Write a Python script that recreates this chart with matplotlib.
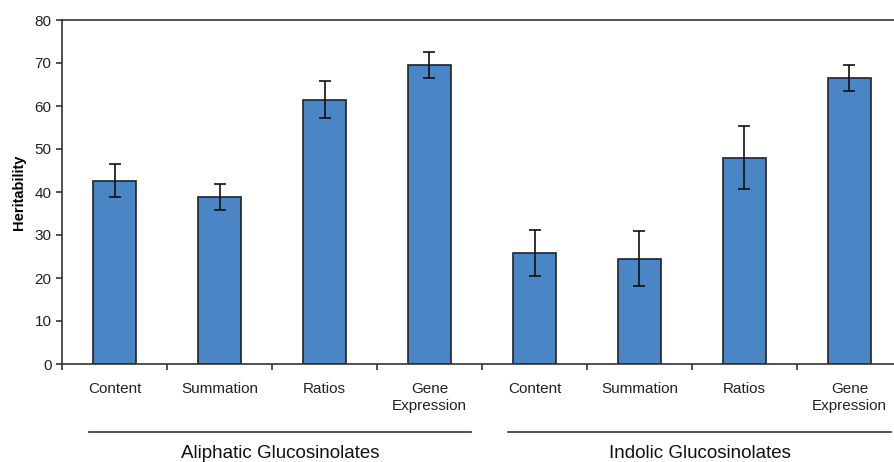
import numpy as np
import matplotlib.pyplot as plt

# Heritability of glucosinolate traits
categories = ['Content', 'Summation', 'Ratios', 'Gene\nExpression',
              'Content', 'Summation', 'Ratios', 'Gene\nExpression']
heritability = [42.6, 38.8, 61.5, 69.5, 25.8, 24.5, 48.0, 66.5]
errors = [3.8, 3.05, 4.4, 2.95, 5.45, 6.4, 7.4, 2.95]
groups = ['Aliphatic Glucosinolates', 'Indolic Glucosinolates']

plt.rcParams['font.family'] = ['Liberation Sans', 'DejaVu Sans']

fig = plt.figure(figsize=(8.94, 4.62), dpi=100)
ax = fig.add_axes([62/894, 1 - 364/462, 840/894, 344/462])

x = np.arange(len(categories))
ax.bar(x, heritability, width=0.41, color='#4a86c6', edgecolor='#222222',
       linewidth=1.2, zorder=2)
ax.errorbar(x, heritability, yerr=errors, fmt='none', ecolor='#111111',
            elinewidth=1.2, capsize=4, capthick=1.2, zorder=3)

ax.set_xlim(-0.5, 7.5)
ax.set_ylim(0, 80)
ax.set_yticks(range(0, 81, 10))
ax.set_ylabel('Heritability', fontsize=10.5, fontweight='bold', labelpad=6)

# ticks between categories, labels at centers
ax.set_xticks(np.arange(-0.5, 8, 1))
ax.set_xticklabels([])
ax.set_xticks(x, minor=True)
ax.set_xticklabels(categories, minor=True, fontsize=11, color='#222222',
                   linespacing=1.25, va='top')
ax.tick_params(axis='x', which='minor', length=0, pad=13)
ax.tick_params(axis='x', which='major', direction='out', length=4,
               width=1.2, color='#333333')
ax.tick_params(axis='y', direction='out', length=4, width=1.2,
               color='#333333', labelsize=11, labelcolor='#222222')

for side in ['left', 'bottom', 'top']:
    ax.spines[side].set_color('#333333')
    ax.spines[side].set_linewidth(1.2)
ax.spines['right'].set_visible(False)

# group lines and labels below the axis
for i, name in enumerate(groups):
    x0 = (89 if i == 0 else 508) / 894
    x1 = (471 if i == 0 else 891) / 894
    fig.add_artist(plt.Line2D([x0, x1], [1 - 432/462, 1 - 432/462],
                              color='#333333', linewidth=1.2))
    fig.text((x0 + x1) / 2, 1 - 453/462, name, ha='center', va='center',
             fontsize=13.5, color='#111111')

fig.savefig('out.png', dpi=100)
